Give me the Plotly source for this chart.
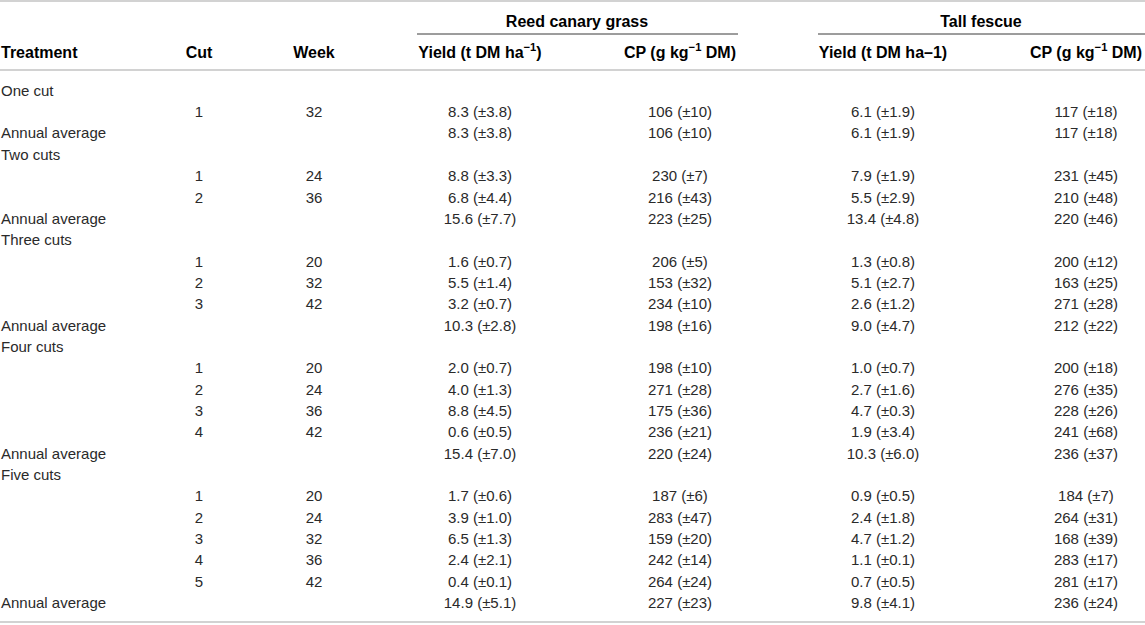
import plotly.graph_objects as graph

# table values
treatments = ["One cut", "Two cuts", "Three cuts", "Four cuts", "Five cuts"]
weeks = [[32], [24, 36], [20, 32, 42], [20, 24, 36, 42], [20, 24, 32, 36, 42]]

rcg_yield = [[8.3], [8.8, 6.8], [1.6, 5.5, 3.2], [2.0, 4.0, 8.8, 0.6], [1.7, 3.9, 6.5, 2.4, 0.4]]
rcg_yield_sd = [[3.8], [3.3, 4.4], [0.7, 1.4, 0.7], [0.7, 1.3, 4.5, 0.5], [0.6, 1.0, 1.3, 2.1, 0.1]]
rcg_yield_avg = [8.3, 15.6, 10.3, 15.4, 14.9]
rcg_yield_avg_sd = [3.8, 7.7, 2.8, 7.0, 5.1]

rcg_cp = [[106], [230, 216], [206, 153, 234], [198, 271, 175, 236], [187, 283, 159, 242, 264]]
rcg_cp_sd = [[10], [7, 43], [5, 32, 10], [10, 28, 36, 21], [6, 47, 20, 14, 24]]
rcg_cp_avg = [106, 223, 198, 220, 227]
rcg_cp_avg_sd = [10, 25, 16, 24, 23]

tf_yield = [[6.1], [7.9, 5.5], [1.3, 5.1, 2.6], [1.0, 2.7, 4.7, 1.9], [0.9, 2.4, 4.7, 1.1, 0.7]]
tf_yield_sd = [[1.9], [1.9, 2.9], [0.8, 2.7, 1.2], [0.7, 1.6, 0.3, 3.4], [0.5, 1.8, 1.2, 0.1, 0.5]]
tf_yield_avg = [6.1, 13.4, 9.0, 10.3, 9.8]
tf_yield_avg_sd = [1.9, 4.8, 4.7, 6.0, 4.1]

tf_cp = [[117], [231, 210], [200, 163, 271], [200, 276, 228, 241], [184, 264, 168, 283, 281]]
tf_cp_sd = [[18], [45, 48], [12, 25, 28], [18, 35, 26, 68], [7, 31, 39, 17, 17]]
tf_cp_avg = [117, 220, 212, 236, 236]
tf_cp_avg_sd = [18, 46, 22, 37, 24]

groups = ["Reed canary grass", "Tall fescue"]
headers = ["Treatment", "Cut", "Week",
           "Yield (t DM ha<sup>−1</sup>)", "CP (g kg<sup>−1</sup> DM)",
           "Yield (t DM ha–1)", "CP (g kg<sup>−1</sup> DM)"]

# layout in pixels (x axis and y axis both run in page pixels)
W, H = 1145, 625
col_x = [1, 199, 314, 480, 680, 883, 1086]
group_x = [577, 981]
group_span = [(417, 738), (818, 1145)]
row_top, row_pitch = 92, 21.35
head_y, group_y = 53.5, 23
body_font = dict(family="Liberation Sans, Arial, sans-serif", size=15, color="#2a2a2a")
head_font = dict(family="Liberation Sans, Arial, sans-serif", size=16, color="#000000")
light_line = "#d2d2d2"


def fmt_yield(v, sd):
    return f"{v:.1f} (±{sd:.1f})"


def fmt_cp(v, sd):
    return f"{v} (±{sd})"


# flatten into table rows: label row, cut rows, annual average row
rows = []
for t, name in enumerate(treatments):
    rows.append([name, "", "", "", "", "", ""])
    for c, wk in enumerate(weeks[t]):
        rows.append(["", str(c + 1), str(wk),
                     fmt_yield(rcg_yield[t][c], rcg_yield_sd[t][c]),
                     fmt_cp(rcg_cp[t][c], rcg_cp_sd[t][c]),
                     fmt_yield(tf_yield[t][c], tf_yield_sd[t][c]),
                     fmt_cp(tf_cp[t][c], tf_cp_sd[t][c])])
    rows.append(["Annual average", "", "",
                 fmt_yield(rcg_yield_avg[t], rcg_yield_avg_sd[t]),
                 fmt_cp(rcg_cp_avg[t], rcg_cp_avg_sd[t]),
                 fmt_yield(tf_yield_avg[t], tf_yield_avg_sd[t]),
                 fmt_cp(tf_cp_avg[t], tf_cp_avg_sd[t])])

row_y = [row_top + i * row_pitch for i in range(len(rows))]

fig = graph.Figure()

# body columns (empty cells are skipped)
for j, x in enumerate(col_x):
    cells = [(y, r[j]) for y, r in zip(row_y, rows) if r[j]]
    fig.add_trace(graph.Scatter(
        x=[x] * len(cells), y=[c[0] for c in cells], mode="text",
        text=[c[1] for c in cells],
        textposition="middle right" if j == 0 else "middle center",
        textfont=body_font, hoverinfo="skip", showlegend=False))

# column headers
fig.add_trace(graph.Scatter(
    x=col_x[1:], y=[head_y] * (len(col_x) - 1), mode="text",
    text=[f"<b>{h}</b>" for h in headers[1:]],
    textposition="middle center", textfont=head_font,
    hoverinfo="skip", showlegend=False))
fig.add_trace(graph.Scatter(
    x=[col_x[0]], y=[head_y], mode="text", text=[f"<b>{headers[0]}</b>"],
    textposition="middle right", textfont=head_font,
    hoverinfo="skip", showlegend=False))

# group headers
fig.add_trace(graph.Scatter(
    x=group_x, y=[group_y] * len(groups), mode="text",
    text=[f"<b>{g}</b>" for g in groups],
    textposition="middle center", textfont=head_font,
    hoverinfo="skip", showlegend=False))

# rules
for y0 in (1, 70, 622):
    fig.add_shape(type="line", x0=0, x1=W, y0=y0, y1=y0,
                  line=dict(color=light_line, width=2))
for x0, x1 in group_span:
    fig.add_shape(type="line", x0=x0, x1=x1, y0=34, y1=34,
                  line=dict(color="#3a3a3a", width=1))

fig.update_layout(
    width=W, height=H, autosize=False,
    margin=dict(l=0, r=0, t=0, b=0),
    paper_bgcolor="white", plot_bgcolor="white",
    xaxis=dict(range=[0, W], visible=False, fixedrange=True),
    yaxis=dict(range=[H, 0], visible=False, fixedrange=True),
)

# drop the browser's default body margin so the table sits at the page corner
fig.write_html("out.html", config={"displayModeBar": False},
               post_script="document.body.style.margin='0';")
